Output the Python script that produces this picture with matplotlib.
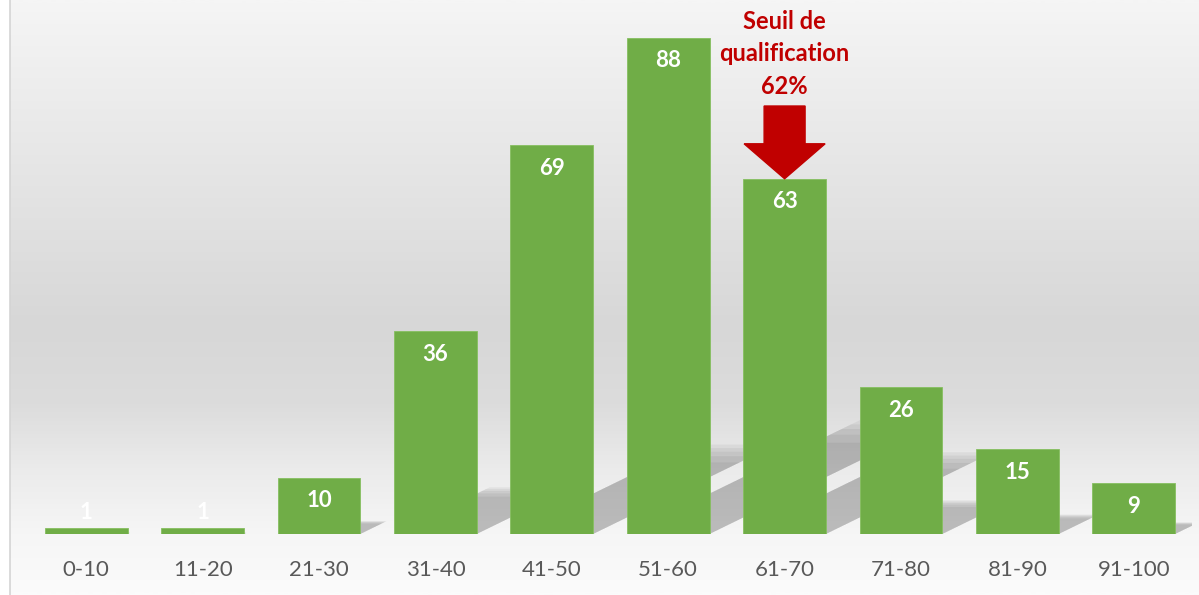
import numpy as np
import matplotlib
matplotlib.use("Agg")
import matplotlib.pyplot as plt
from matplotlib.colors import LinearSegmentedColormap
from matplotlib.lines import Line2D
from matplotlib.patches import Polygon

# data
categories = ["0-10", "11-20", "21-30", "31-40", "41-50",
              "51-60", "61-70", "71-80", "81-90", "91-100"]
counts = [1, 1, 10, 36, 69, 88, 63, 26, 15, 9]
threshold_label = "Seuil de\nqualification\n62%"
threshold_bin = "61-70"

plt.rcParams['font.family'] = ['Lato', 'DejaVu Sans']

fig = plt.figure(figsize=(11.99, 5.95), dpi=100)
fig.patch.set_facecolor('white')

# gradient background panel
ax_bg = fig.add_axes([10 / 1199, 0, 1189 / 1199, 1])
stops = [(0.0, '#f5f5f5'), (0.33, '#e3e3e3'), (0.55, '#d7d7d7'),
         (0.68, '#dcdcdc'), (0.79, '#ebebeb'), (0.9, '#f6f6f6'), (1.0, '#fbfbfb')]
cmap = LinearSegmentedColormap.from_list('bg', stops)
grad = np.linspace(0, 1, 300).reshape(-1, 1)
ax_bg.imshow(grad, aspect='auto', cmap=cmap, extent=[0, 1, 1, 0])
ax_bg.set_xlim(0, 1)
ax_bg.set_ylim(1, 0)
ax_bg.axis('off')
fig.add_artist(Line2D([10 / 1199, 10 / 1199], [0, 1], color='#d4d4d4', lw=1.2))

ax = fig.add_axes([28 / 1199, 61 / 595, 1164 / 1199, 534 / 595])
ax.set_facecolor('none')
x = np.arange(len(categories))
width = 0.71

# perspective shadows behind the bars, layered for a soft edge
for xi, h in zip(x, counts):
    xl, xr = xi - width / 2, xi + width / 2
    dx, dy = 0.0228 * h, 0.23 * h
    for f in [1.0, 0.96, 0.92, 0.87, 0.8]:
        pts = [(xl, 0), (xr, 0), (xr + dx * f, dy * f), (xl + dx * f, dy * f)]
        ax.add_patch(Polygon(pts, closed=True, facecolor='black', edgecolor='none',
                             alpha=0.05, zorder=1))

bars = ax.bar(x, counts, width=width, color='#70ad47', edgecolor='#86bf60',
              linewidth=0.6, zorder=3)

for xi, h in zip(x, counts):
    y = h - 4.1 if h > 5 else h + 2.8
    ax.text(xi, y, str(h), ha='center', va='center', color='white',
            fontsize=16, fontweight='bold', zorder=4)

# threshold annotation
ti = categories.index(threshold_bin)
th = counts[ti]
ax.text(ti, 85.2, threshold_label, ha='center', va='center', color='#c00000',
        fontsize=17, fontweight='bold', linespacing=1.5, zorder=5)
ax.arrow(ti, 75.9, 0, th - 75.9, width=0.352, head_width=0.696, head_length=6.2,
         length_includes_head=True, color='#c00000', zorder=5)

ax.set_xlim(-0.5, 9.5)
ax.set_ylim(0, 94.7)
ax.set_xticks(x)
ax.set_xticklabels(categories)
ax.tick_params(axis='x', length=0, pad=19, labelsize=16, labelcolor='#595959')
ax.set_yticks([])
for s in ax.spines.values():
    s.set_visible(False)

fig.savefig('out.png', dpi=100)
